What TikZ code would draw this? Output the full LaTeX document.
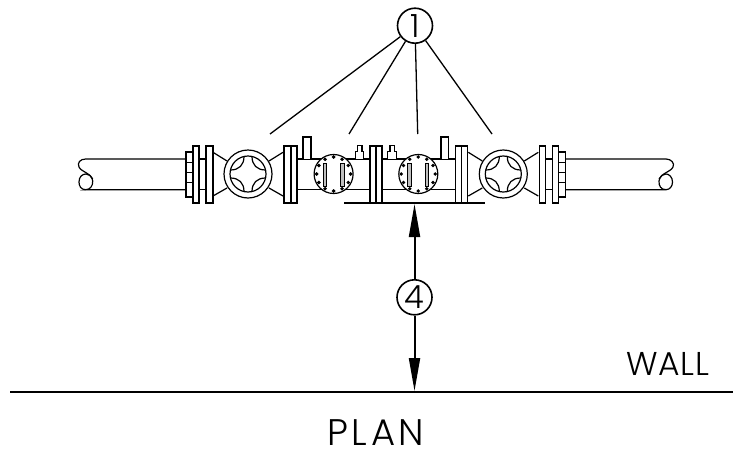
\documentclass[tikz,border=0pt]{standalone}
\usepackage{fontspec}
\newfontfamily\drawfont{Poppins Light}
\newfontfamily\wallfont[LetterSpace=2]{Poppins Light}
\newfontfamily\planfont[LetterSpace=10]{Poppins Light}
\usetikzlibrary{arrows.meta}

\def\pipetop{159}
\def\pipebot{189.7}
\def\valvemid{174}

\begin{document}
\begin{tikzpicture}[x=1pt,y=-1pt,
% Here are defined the line and block parameters
part/.style={
draw=black, line width=1.2pt, fill=white },
pipeline/.style={
draw=black, line width=1.2pt },
slot/.style={
draw=black, line width=.8pt, fill=black!25 },
bolt/.style={
circle, fill=black, inner sep=0, minimum size=3.8pt },
bubble/.style={
circle, draw=black, line width=1.6pt, inner sep=0, minimum size=35pt,
font=\drawfont\fontsize{32}{32}\selectfont },
leader/.style={
draw=black, line width=1.3pt },
dimline/.style={
draw=black, line width=2pt, -{Triangle[length=33pt,width=11pt]} },
heavy/.style={
fill=black, inner sep=0, minimum height=2.2pt },
label/.style={
inner sep=0 },
]

% flange: left edge, right edge
\def\flange#1#2{\draw[part] (#1,146) rectangle (#2,203);}
% bolt cap on the end flange: left edge, right edge
\def\boltcap#1#2{
\draw[part] (#1,152) rectangle (#2,197);
\foreach \y in {162,172,182} \draw[pipeline, line width=.9pt] (#1,\y) -- (#2,\y);
}
% valve: centre x
\def\valve#1{
\draw[pipeline] (#1-35,152.3) -- (#1-21,161) (#1-35,196) -- (#1-21,188)
 (#1+21,161) -- (#1+35,152.3) (#1+21,188) -- (#1+35,196);
\draw[part] (#1,\valvemid) circle (24);
\draw[pipeline] (#1,\valvemid) circle (18);
\draw[pipeline] (#1-17.5,\valvemid-4) .. controls (#1-9,\valvemid-4) and (#1-4,\valvemid-9) .. (#1-4,\valvemid-17.5);
\draw[pipeline] (#1+17.5,\valvemid-4) .. controls (#1+9,\valvemid-4) and (#1+4,\valvemid-9) .. (#1+4,\valvemid-17.5);
\draw[pipeline] (#1-17.5,\valvemid+4) .. controls (#1-9,\valvemid+4) and (#1-4,\valvemid+9) .. (#1-4,\valvemid+17.5);
\draw[pipeline] (#1+17.5,\valvemid+4) .. controls (#1+9,\valvemid+4) and (#1+4,\valvemid+9) .. (#1+4,\valvemid+17.5);
}

\useasboundingbox (0,0) rectangle (733,450);

%%%%%%%%%%%%%%%%%%%%%%%%
%%% THE PIPE RUN
%%%%%%%%%%%%%%%%%%%%%%%%

% The two cut pipe ends
\draw[pipeline] (190,\pipetop) -- (85.7,\pipetop) .. controls (80,\pipetop) and (77,163) .. (79,167)
 .. controls (81,172) and (92,173) .. (92.7,181) .. controls (93,186) and (90,\pipebot) .. (85.7,\pipebot) -- (190,\pipebot);
\draw[pipeline] (85.7,\pipebot) .. controls (81,\pipebot) and (79,186) .. (79,182)
 .. controls (79,177) and (82,174) .. (86,174) .. controls (89,174) and (91,176) .. (92.7,179);
\draw[pipeline] (560,\pipetop) -- (666,\pipetop) .. controls (671,\pipetop) and (675,163) .. (673,167)
 .. controls (671,172) and (660,173) .. (659,181) .. controls (658.7,186) and (661,\pipebot) .. (666,\pipebot) -- (560,\pipebot);
\draw[pipeline] (666,\pipebot) .. controls (670,\pipebot) and (672.5,186) .. (672.5,182)
 .. controls (672.5,177) and (669,174) .. (666,174) .. controls (663,174) and (660.5,176) .. (659,179);

% The straight pieces between the flanges
\draw[pipeline] (199,\pipetop) -- (206,\pipetop) (199,\pipebot) -- (206,\pipebot);
\draw[pipeline] (297,\pipetop) -- (455,\pipetop) (297,\pipebot) -- (455,\pipebot);
\draw[pipeline] (545,\pipetop) -- (552,\pipetop) (545,\pipebot) -- (552,\pipebot);

% Stems and small caps on top of the pipe
\draw[part] (303,159) -- (303,137) -- (311,137) -- (311,159);
\draw[part] (441,159) -- (441,137) -- (448.7,137) -- (448.7,159);
\draw[part] (355.3,159) -- (355.3,151.7) -- (363.7,151.7) -- (363.7,159);
\draw[part] (357.7,151.7) -- (357.7,145.7) -- (362,145.7) -- (362,151.7);
\draw[part] (387.7,159) -- (387.7,151.7) -- (396.7,151.7) -- (396.7,159);
\draw[part] (390,151.7) -- (390,145.7) -- (394.3,145.7) -- (394.3,151.7);

% Valves
\valve{248}
\valve{503.3}

% Flanges from left to right
\boltcap{186}{193}
\flange{193}{199}
\flange{206}{213}
\flange{284}{291}
\flange{291}{297}
\flange{370}{375.3}
\flange{376.7}{382}
\flange{455.3}{461.3}
\flange{461.3}{467.3}
\flange{539.3}{545.3}
\flange{552.3}{558.7}
\boltcap{558.7}{565.7}

%%%% The 2 round covers
\draw[part] (333.6,\valvemid) circle (19.5);
\foreach \a in {0,30,...,330} \node[bolt] at ([shift={(\a:17)}]333.6,\valvemid) {};
\draw[slot] (323.3,163) rectangle (326.7,186);
\draw[slot] (340.7,163) rectangle (344,186);

\draw[part] (418.3,\valvemid) circle (19.5);
\foreach \a in {0,30,...,330} \node[bolt] at ([shift={(\a:17)}]418.3,\valvemid) {};
\draw[slot] (407.7,163) rectangle (411,186);
\draw[slot] (425,163) rectangle (428.3,186);

%%%%%%%%%%%%%%%%%%%%%%%%
%%% PLATE, WALL AND LABELS
%%%%%%%%%%%%%%%%%%%%%%%%

\node[heavy, minimum width=141pt] (plate) at (414.5,202.7) {};
\node[heavy, minimum width=723pt] (wall) at (371.5,391.7) {};
\coordinate (wallpoint) at (414.5,391);

\node[bubble] (bub1) at (415,25.7) {1};
\node[bubble] (bub4) at (414.5,297.3) {4};

\coordinate (lead1) at (270,134);
\coordinate (lead2) at (349,134);
\coordinate (lead3) at (417.7,134);
\coordinate (lead4) at (492,134);
\foreach \n in {1,2,3,4} \draw[leader] (bub1) -- (lead\n);

\draw[dimline] (bub4) -- (plate);
\draw[dimline] (bub4) -- (wallpoint);

\node[label, anchor=base west, font=\wallfont\fontsize{33}{33}\selectfont] (walllabel) at (626,375.7) {WALL};
\node[label, anchor=base west, font=\planfont\fontsize{37}{37}\selectfont] (planlabel) at (327,445) {PLAN};

\end{tikzpicture}
\end{document}
